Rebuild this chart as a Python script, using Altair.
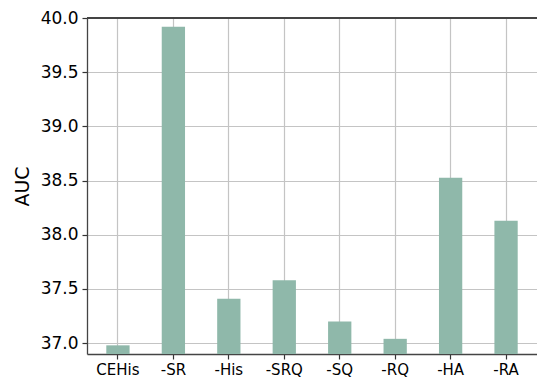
import altair as alt
import pandas as pd

categories = ["CEHis", "-SR", "-His", "-SRQ", "-SQ", "-RQ", "-HA", "-RA"]
auc_values = [36.98, 39.92, 37.41, 37.58, 37.20, 37.04, 38.525, 38.13]
y_ticks = [37.0, 37.5, 38.0, 38.5, 39.0, 39.5, 40.0]
y_min, y_max = 36.9, 40.0

df = pd.DataFrame({"method": categories, "auc": auc_values})

W, H = 450, 336
font = "DejaVu Sans"

x_enc = alt.X(
    "method:N",
    sort=categories,
    scale=alt.Scale(paddingInner=0.58, paddingOuter=0.348),
    axis=alt.Axis(
        title=None, labelAngle=0, labelFont=font, labelFontSize=15, labelColor="black",
        labelPadding=3, tickSize=5, tickColor="#333333", tickWidth=1.2,
        domainColor="#444444", domainWidth=1.3,
        grid=True, gridColor="#c4c4c4", gridWidth=1.2,
    ),
)
y_enc = alt.Y(
    "auc:Q",
    scale=alt.Scale(domain=[y_min, y_max], zero=False, nice=False),
    axis=alt.Axis(
        title="AUC", titleFont=font, titleFontSize=19, titleFontWeight="normal",
        titleColor="black", titlePadding=8,
        values=y_ticks, format=".1f", labelFont=font, labelFontSize=17, labelColor="black",
        labelPadding=4, tickSize=5, tickColor="#333333", tickWidth=1.2,
        domainColor="#444444", domainWidth=1.3,
        grid=True, gridColor="#c4c4c4", gridWidth=1.2,
    ),
)

bars = alt.Chart(df).mark_bar(color="#8fb8aa").encode(
    x=x_enc, y=y_enc, y2=alt.datum(y_min)
)

top_spine = alt.Chart(df).mark_rule(color="#444444", strokeWidth=1.5).encode(
    x=alt.value(0), x2=alt.value(W), y=alt.value(0)
)

chart = alt.layer(bars, top_spine).properties(
    width=W, height=H,
    autosize=alt.AutoSizeParams(type="none"),
    padding={"left": 87, "top": 18, "right": 0, "bottom": 24},
).configure_view(stroke=None)

chart.save("out.html", embed_options={"renderer": "svg", "actions": False})
